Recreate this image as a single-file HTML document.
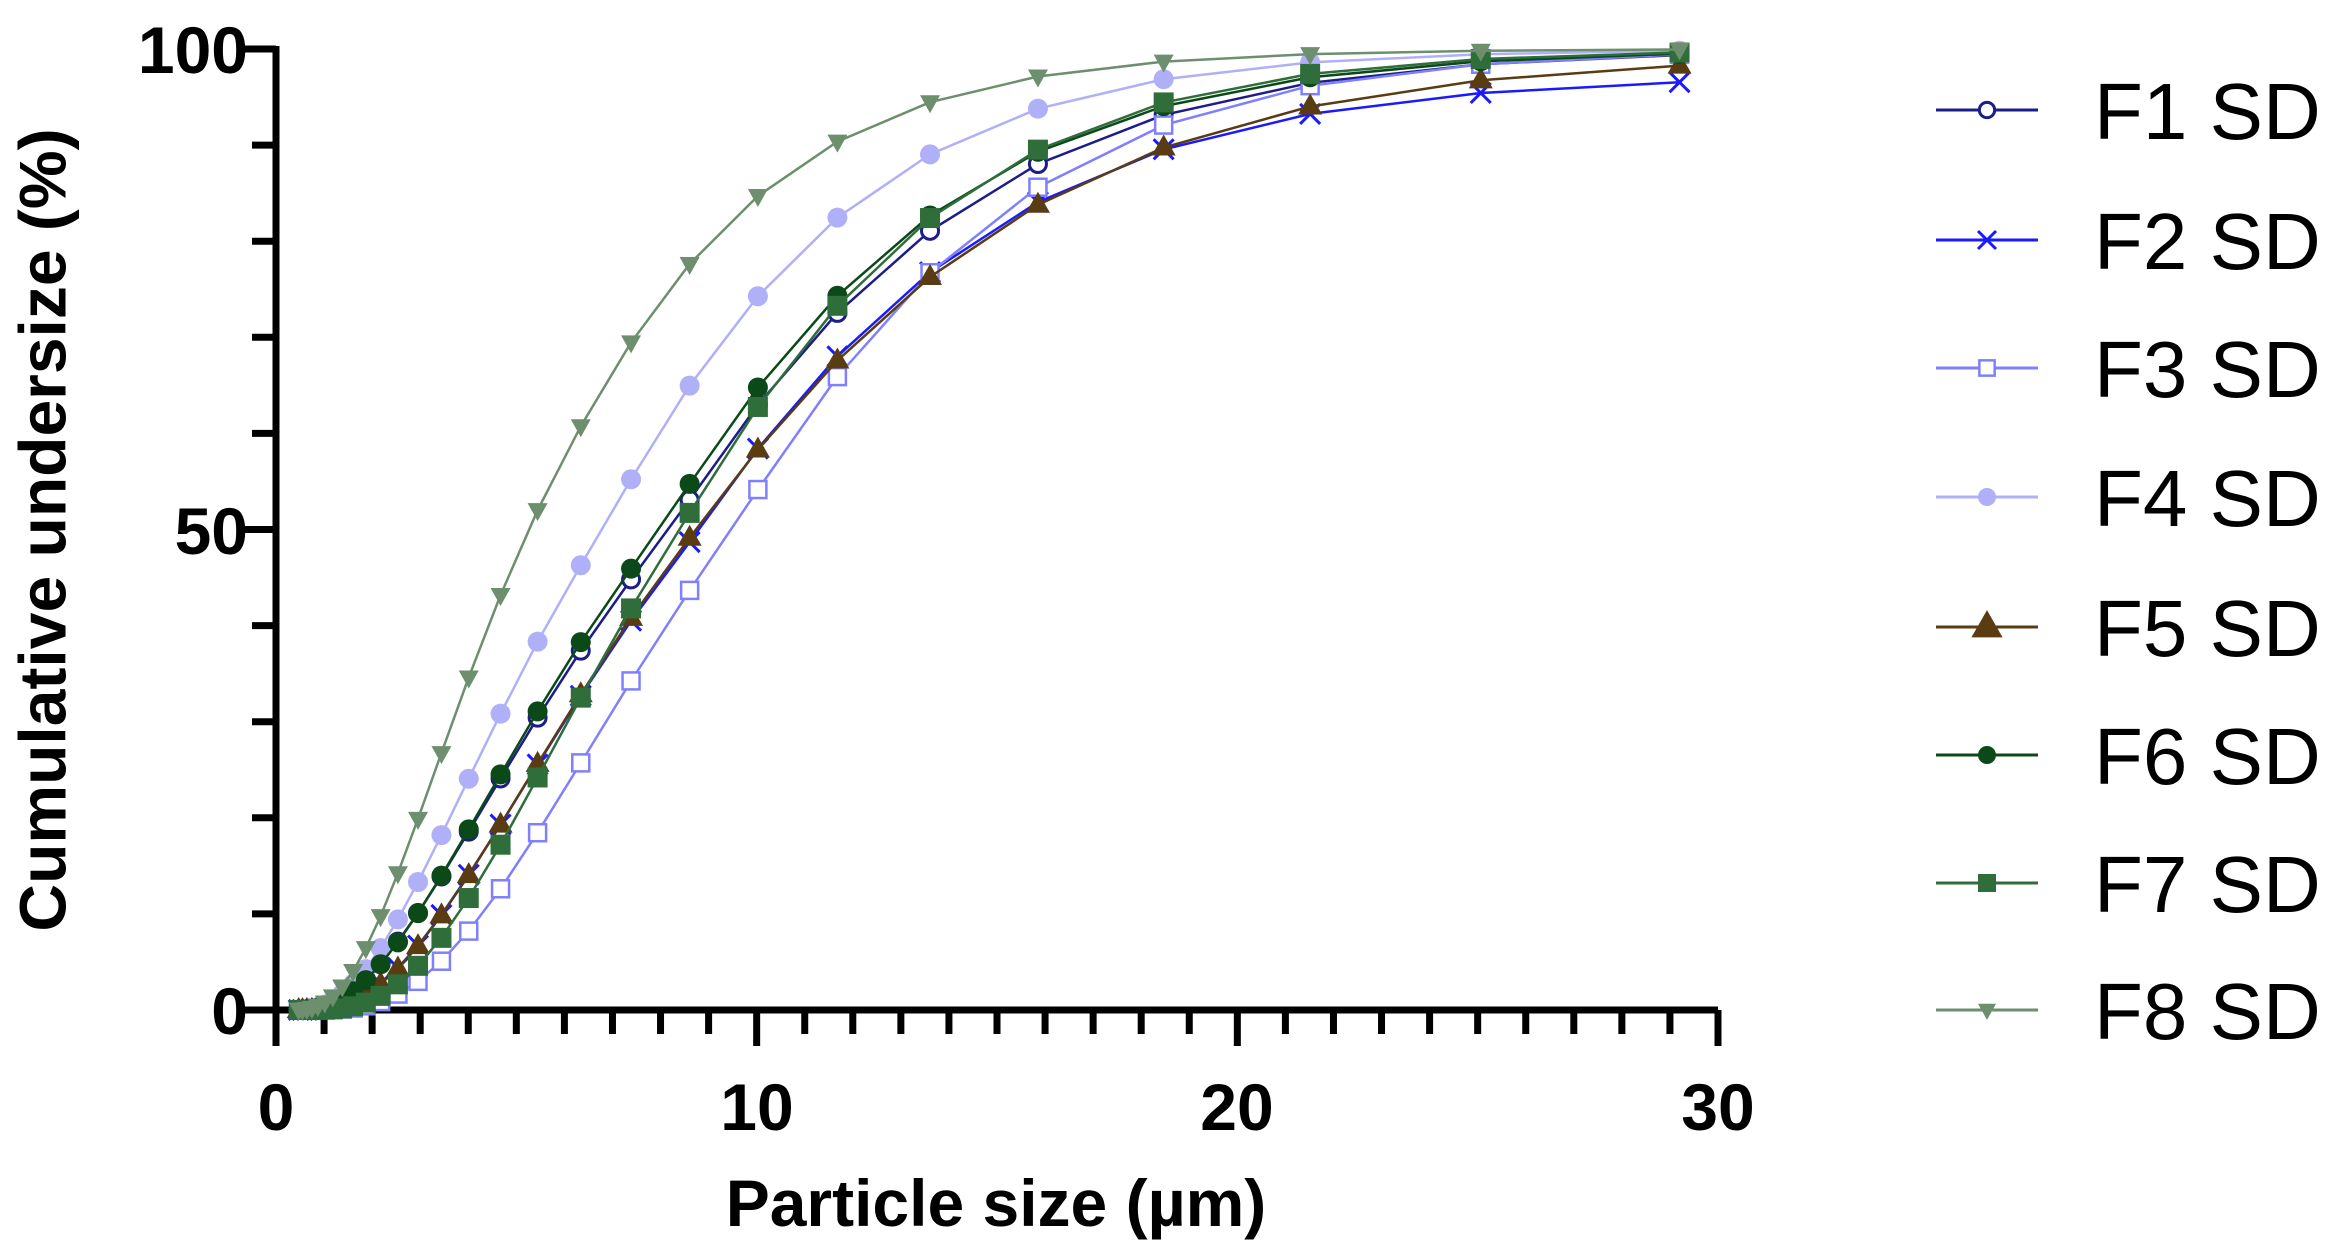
<!DOCTYPE html>
<html><head><meta charset="utf-8"><style>
html,body{margin:0;padding:0;background:#fff;}
svg{display:block;}
text{font-family:"Liberation Sans",Arial,sans-serif;}
</style></head><body>
<svg id="s" width="2333" height="1257" viewBox="0 0 2333 1257" xmlns="http://www.w3.org/2000/svg">
<text x="48" y="530" transform="rotate(-90 48 530)" text-anchor="middle" dominant-baseline="middle" font-size="66" font-weight="bold">Cumulative undersize (%)</text>
<text x="996" y="1226" text-anchor="middle" font-size="66" font-weight="bold">Particle size (µm)</text>
<g font-size="66" font-weight="bold" text-anchor="end">
<text x="248" y="73">100</text><text x="248" y="554">50</text><text x="248" y="1034">0</text>
</g>
<g font-size="66" font-weight="bold" text-anchor="middle">
<text x="276" y="1130">0</text><text x="757" y="1130">10</text><text x="1237" y="1130">20</text><text x="1718" y="1130">30</text>
</g>
<g id="ax" stroke="#000" stroke-width="7" fill="none"></g>
<g id="plot"></g>
<g id="leg"></g>
</svg>
<script>
var X0=276,X1=1718,Y0=1010,Y1=49;
function px(x){return X0+(X1-X0)*x/30;}
function py(v){return Y0-(Y0-Y1)*v/100;}
var ns="http://www.w3.org/2000/svg";
function el(p,t,a){var e=document.createElementNS(ns,t);for(var k in a)e.setAttribute(k,a[k]);p.appendChild(e);return e;}
var ax=document.getElementById('ax');
el(ax,'line',{x1:X0,y1:Y1-3,x2:X0,y2:Y0+3});
el(ax,'line',{x1:X0-3,y1:Y0,x2:X1,y2:Y0});
for(var i=0;i<=10;i++){var y=py(i*10);el(ax,'line',{x1:(i%5==0?X0-36:X0-24),y1:y,x2:X0,y2:y});}
for(var i=0;i<=30;i++){var x=px(i);el(ax,'line',{x1:x,y1:Y0,x2:x,y2:(i%10==0?Y0+36:Y0+24)});}
function erf(x){var s=x<0?-1:1;x=Math.abs(x);var t=1/(1+0.3275911*x);var y=1-(((((1.061405429*t-1.453152027)*t)+1.421413741)*t-0.284496736)*t+0.254829592)*t*Math.exp(-x*x);return s*y;}
function cdf(x,s){var u=Math.log(x/s.m);var z=u<0?u/s.sl:u/s.sh+0.3*u*u;return 0.5*(1+erf(z/Math.SQRT2));}
var xs=[];for(var x=29.2;x>0.45;x/=1.165)xs.push(x);xs.reverse();
var S=[
{n:"F1 SD",c:"#1c1c8a",m:8.2,sl:0.8,sh:0.63,k:"oc",mx:100},
{n:"F2 SD",c:"#1a1aff",m:8.6,sl:0.72,sh:0.62,k:"x",mx:97.3},
{n:"F3 SD",c:"#8080ff",m:9.5,sl:0.62,sh:0.52,k:"os",mx:100},
{n:"F4 SD",c:"#b0b0f8",m:6.8,sl:0.75,sh:0.64,k:"fc",mx:100},
{n:"F5 SD",c:"#5a3c12",m:8.7,sl:0.72,sh:0.67,k:"tu",mx:99.5},
{n:"F6 SD",c:"#0b4a18",m:8.0,sl:0.78,sh:0.62,k:"fc",mx:100},
{n:"F7 SD",c:"#2f6d3a",m:8.4,sl:0.62,sh:0.56,k:"fs",mx:100},
{n:"F8 SD",c:"#6d8f6d",m:5.25,sl:0.68,sh:0.72,k:"td",mx:100}];
function mark(g,k,c,x,y,r){
 if(k=="oc")el(g,'circle',{cx:x,cy:y,r:r*0.85,fill:"#fff",stroke:c,"stroke-width":3});
 else if(k=="fc")el(g,'circle',{cx:x,cy:y,r:r,fill:c});
 else if(k=="os")el(g,'rect',{x:x-r*0.85,y:y-r*0.85,width:r*1.7,height:r*1.7,fill:"#fff",stroke:c,"stroke-width":2.5});
 else if(k=="fs")el(g,'rect',{x:x-r,y:y-r,width:2*r,height:2*r,fill:c});
 else if(k=="x"){el(g,'path',{d:"M"+(x-r)+" "+(y-r)+"L"+(x+r)+" "+(y+r)+"M"+(x+r)+" "+(y-r)+"L"+(x-r)+" "+(y+r),stroke:c,"stroke-width":3});}
 else if(k=="tu")el(g,'path',{d:"M"+x+" "+(y-r*1.3)+"L"+(x+r*1.2)+" "+(y+r*0.8)+"L"+(x-r*1.2)+" "+(y+r*0.8)+"Z",fill:c});
 else if(k=="td")el(g,'path',{d:"M"+x+" "+(y+r*1.1)+"L"+(x+r*1.0)+" "+(y-r*0.7)+"L"+(x-r*1.0)+" "+(y-r*0.7)+"Z",fill:c});
}
var plot=document.getElementById('plot'),leg=document.getElementById('leg');
var ly=[110,240,368,497,627,755,883,1010];
S.forEach(function(s,i){
 var g=el(plot,'g',{});var d="";var pts=[];
 xs.forEach(function(x,j){var v=s.mx*cdf(x,s);var X=px(x),Y=py(v);pts.push([X,Y]);d+=(j?"L":"M")+X.toFixed(1)+" "+Y.toFixed(1);});
 el(g,'path',{d:d,fill:"none",stroke:s.c,"stroke-width":2.5});
 pts.forEach(function(p){mark(g,s.k,s.c,p[0],p[1],10);});
 var y=ly[i];
 el(leg,'line',{x1:1936,y1:y,x2:2038,y2:y,stroke:s.c,"stroke-width":3});
 mark(leg,s.k,s.c,1987,y,s.k=="tu"?13:9);
 var t=el(leg,'text',{x:2094,y:y+29,"font-size":80});t.textContent=s.n;
});
</script>
</body></html>
